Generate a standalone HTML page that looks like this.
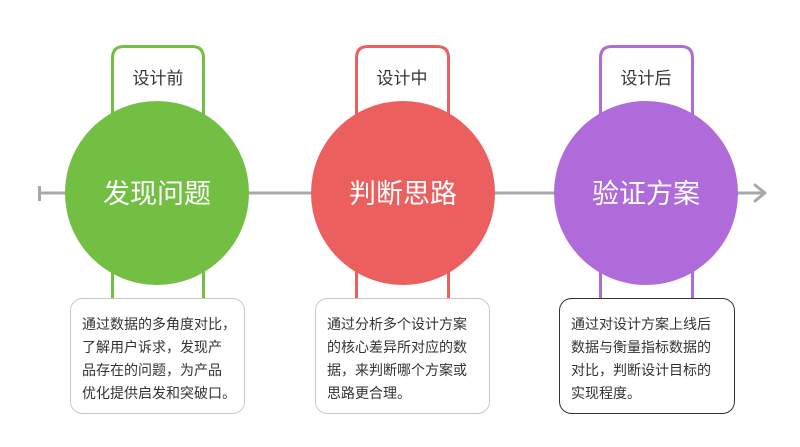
<!DOCTYPE html>
<html><head><meta charset="utf-8"><style>
html,body{margin:0;padding:0;background:#fff;}
svg{display:block}
text{font-family:"Liberation Sans","Noto Sans CJK SC",sans-serif;}
</style></head><body>
<svg width="800" height="447" viewBox="0 0 800 447">
<line x1="38" y1="193" x2="765" y2="193" stroke="#a8a8a8" stroke-width="3"/>
<line x1="39.5" y1="186" x2="39.5" y2="201" stroke="#a8a8a8" stroke-width="3"/>
<polyline points="755,185 765,193 755,201" fill="none" stroke="#a8a8a8" stroke-width="3" stroke-linejoin="round" stroke-linecap="round"/>

<!-- green -->
<path d="M112.5,300 V58 Q112.5,46.5 124,46.5 H192 Q203.5,46.5 203.5,58 V300" fill="#fff" stroke="#72bf44" stroke-width="3"/>
<text x="158" y="84" font-size="17" text-anchor="middle" fill="#333">设计前</text>
<circle cx="157" cy="193" r="92" fill="#72bf44"/>
<text x="157" y="203" font-size="27" text-anchor="middle" fill="#fff">发现问题</text>
<rect x="70.5" y="298.5" width="174" height="115" rx="12" fill="#fff" stroke="#c8c8c8"/>
<g font-size="14" fill="#333">
<text x="82" y="329">通过数据的多角度对比，</text>
<text x="82" y="352">了解用户诉求，发现产</text>
<text x="82" y="375">品存在的问题，为产品</text>
<text x="82" y="398">优化提供启发和突破口。</text>
</g>

<!-- red -->
<path d="M356.5,300 V58 Q356.5,46.5 368,46.5 H437 Q448.5,46.5 448.5,58 V300" fill="#fff" stroke="#eb5f5f" stroke-width="3"/>
<text x="402" y="84" font-size="17" text-anchor="middle" fill="#333">设计中</text>
<circle cx="403" cy="193" r="92" fill="#eb5f5f"/>
<text x="403" y="203" font-size="27" text-anchor="middle" fill="#fff">判断思路</text>
<rect x="315.5" y="298.5" width="174" height="115" rx="12" fill="#fff" stroke="#c8c8c8"/>
<g font-size="14" fill="#333">
<text x="327" y="329">通过分析多个设计方案</text>
<text x="327" y="352">的核心差异所对应的数</text>
<text x="327" y="375">据，来判断哪个方案或</text>
<text x="327" y="398">思路更合理。</text>
</g>

<!-- purple -->
<path d="M600.5,300 V58 Q600.5,46.5 612,46.5 H681 Q692.5,46.5 692.5,58 V300" fill="#fff" stroke="#ae6bd9" stroke-width="3"/>
<text x="646" y="84" font-size="17" text-anchor="middle" fill="#333">设计后</text>
<circle cx="646" cy="193" r="92" fill="#ae6bd9"/>
<text x="646" y="203" font-size="27" text-anchor="middle" fill="#fff">验证方案</text>
<rect x="559.5" y="298.5" width="175" height="115" rx="12" fill="#fff" stroke="#333"/>
<g font-size="14" fill="#333">
<text x="571" y="329">通过对设计方案上线后</text>
<text x="571" y="352">数据与衡量指标数据的</text>
<text x="571" y="375">对比，判断设计目标的</text>
<text x="571" y="398">实现程度。</text>
</g>
</svg>
</body></html>
